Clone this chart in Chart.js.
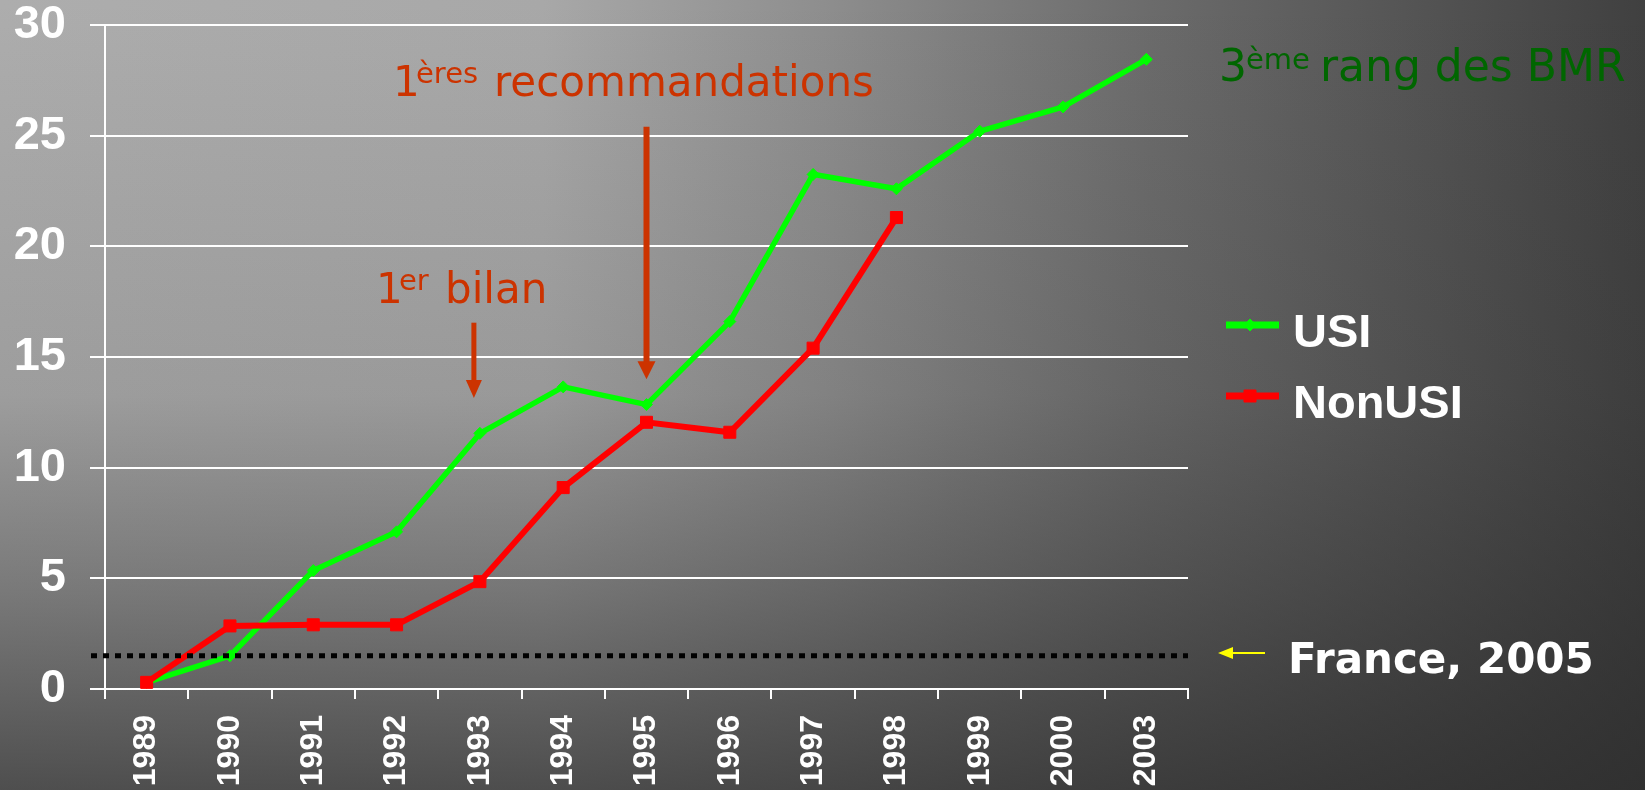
<!DOCTYPE html>
<html>
<head>
<meta charset="utf-8">
<script src="https://cdn.jsdelivr.net/npm/chart.js@4.4.1/dist/chart.umd.min.js"></script>
<style>
html,body{margin:0;padding:0;background:#333;}
#wrap{position:relative;width:1645px;height:790px;
  background:
    linear-gradient(to bottom, rgba(42,42,42,0) 0%, rgba(42,42,42,0.12) 50%, rgba(42,42,42,0.4) 75%, rgba(42,42,42,0.72) 100%),
    linear-gradient(to right, #adadad 0%, #a8a8a8 33%, #8e8e8e 50%, #6b6b6b 70%, #404040 100%);
}
canvas{display:block;}
</style>
</head>
<body>
<div id="wrap"><canvas id="c" width="1645" height="790"></canvas></div>
<script>
// ---- data ----
const years = ['1989','1990','1991','1992','1993','1994','1995','1996','1997','1998','1999','2000','2003'];
const usiValues = [0.3, 1.5, 5.35, 7.1, 11.55, 13.65, 12.85, 16.6, 23.25, 22.6, 25.2, 26.3, 28.45];
const nonUsiValues = [0.3, 2.85, 2.9, 2.9, 4.85, 9.1, 12.05, 11.6, 15.4, 21.3, null, null, null];
const seriesNames = ['USI', 'NonUSI'];
const franceLevel = 1.5;
const yMin = 0, yMax = 30, yStep = 5;

const TEXT_FONT = '"DejaVu Sans", sans-serif';
const AXIS_FONT = '"Liberation Sans", Arial, sans-serif';

function arrowDown(ctx, x, y1, y2, lw, headLen, headHalf, color) {
  ctx.save();
  ctx.strokeStyle = color; ctx.fillStyle = color; ctx.lineWidth = lw; ctx.lineCap = 'butt';
  ctx.beginPath(); ctx.moveTo(x, y1); ctx.lineTo(x, y2 - headLen + 1); ctx.stroke();
  ctx.beginPath(); ctx.moveTo(x - headHalf, y2 - headLen); ctx.lineTo(x + headHalf, y2 - headLen); ctx.lineTo(x, y2); ctx.closePath(); ctx.fill();
  ctx.restore();
}
function segs(ctx, list, color) {
  ctx.save();
  ctx.fillStyle = color; ctx.textBaseline = 'alphabetic'; ctx.textAlign = 'left';
  list.forEach(s => { ctx.font = (s.b ? 'bold ' : '') + s.s + 'px ' + TEXT_FONT; ctx.fillText(s.t, s.x, s.y); });
  ctx.restore();
}

const overlay = {
  id: 'overlay',
  afterDatasetsDraw(chart) {
    const ctx = chart.ctx, ys = chart.scales.y, ca = chart.chartArea;
    const yF = ys.getPixelForValue(franceLevel);
    ctx.save();
    ctx.strokeStyle = '#000'; ctx.lineWidth = 5; ctx.setLineDash([6, 6]); ctx.lineCap = 'butt';
    ctx.beginPath(); ctx.moveTo(ca.left - 14, yF); ctx.lineTo(ca.right, yF); ctx.stroke();
    ctx.restore();
  },
  afterDraw(chart) {
    const ctx = chart.ctx, xs = chart.scales.x, ys = chart.scales.y;
    const orange = '#cc3300';
    // arrows
    arrowDown(ctx, xs.getPixelForValue(6), ys.getPixelForValue(25.4), ys.getPixelForValue(14.0), 6, 18, 9, orange);
    arrowDown(ctx, xs.getPixelForValue(4) - 6, ys.getPixelForValue(16.55), ys.getPixelForValue(13.15), 5, 18, 8, orange);
    // annotation texts
    segs(ctx, [
      {t:'1', x:393, y:96, s:42},
      {t:'ères', x:416, y:83, s:29},
      {t:'recommandations', x:494, y:96, s:42}
    ], orange);
    segs(ctx, [
      {t:'1', x:376, y:303, s:42},
      {t:'er', x:399, y:290, s:29},
      {t:'bilan', x:445, y:303, s:42}
    ], orange);
    segs(ctx, [
      {t:'3', x:1219, y:81, s:44},
      {t:'ème', x:1246, y:69, s:29},
      {t:'rang des BMR', x:1320, y:81, s:44}
    ], '#006600');
    segs(ctx, [{t:'France, 2005', x:1288, y:673, s:42, b:true}], '#ffffff');
    // yellow arrow
    ctx.save();
    ctx.strokeStyle = '#ffff00'; ctx.fillStyle = '#ffff00'; ctx.lineWidth = 2;
    ctx.beginPath(); ctx.moveTo(1265, 653); ctx.lineTo(1228, 653); ctx.stroke();
    ctx.beginPath(); ctx.moveTo(1218, 653); ctx.lineTo(1233, 647); ctx.lineTo(1233, 659); ctx.closePath(); ctx.fill();
    ctx.restore();
    // legend
    const items = chart.data.datasets;
    const ly = [325, 396];
    items.forEach((ds, i) => {
      ctx.save();
      ctx.strokeStyle = ds.borderColor; ctx.lineWidth = 7; ctx.lineCap = 'butt';
      ctx.beginPath(); ctx.moveTo(1226, ly[i]); ctx.lineTo(1279, ly[i]); ctx.stroke();
      ctx.fillStyle = ds.pointBackgroundColor; ctx.strokeStyle = ds.pointBorderColor; ctx.lineWidth = ds.pointBorderWidth;
      Chart.helpers.drawPoint(ctx, {pointStyle: ds.pointStyle, radius: ds.pointRadius, borderWidth: ds.pointBorderWidth, rotation: 0}, 1250, ly[i]);
      ctx.fillStyle = '#ffffff'; ctx.font = 'bold 47px ' + AXIS_FONT; ctx.textBaseline = 'alphabetic';
      ctx.fillText(ds.label, 1293, ly[i] + 22);
      ctx.restore();
    });
  }
};

new Chart(document.getElementById('c'), {
  type: 'line',
  data: {
    labels: years,
    datasets: [
      {
        label: seriesNames[0], data: usiValues, order: 1,
        borderColor: '#00ff00', borderWidth: 5.5,
        pointStyle: 'rectRot', pointRadius: 6, pointBackgroundColor: '#00ff00', pointBorderColor: '#00ff00', pointBorderWidth: 1,
        tension: 0, fill: false
      },
      {
        label: seriesNames[1], data: nonUsiValues, order: 0,
        borderColor: '#ff0000', borderWidth: 6,
        pointStyle: 'rect', pointRadius: 8.5, pointBackgroundColor: '#ff0000', pointBorderColor: '#ff0000', pointBorderWidth: 1,
        tension: 0, fill: false, spanGaps: false
      }
    ]
  },
  options: {
    responsive: false,
    animation: false,
    devicePixelRatio: 1,
    layout: { padding: { left: 0, top: 25, right: 457, bottom: 0 } },
    plugins: { legend: { display: false }, tooltip: { enabled: false } },
    events: [],
    scales: {
      x: {
        offset: true,
        grid: { display: true, drawOnChartArea: false, drawTicks: true, tickLength: 10, color: '#ffffff', lineWidth: 2, offset: true },
        border: { display: true, color: '#ffffff', width: 2 },
        ticks: { autoSkip: false, maxRotation: 90, minRotation: 90, padding: 16, color: '#ffffff',
                 font: { family: AXIS_FONT, size: 32, weight: 'bold' } },
        afterFit(scale) { scale.height = 101; scale.paddingLeft = 0; scale.paddingRight = 0; }
      },
      y: {
        min: yMin, max: yMax,
        grid: { color: '#ffffff', lineWidth: 2, drawTicks: true, tickLength: 15 },
        border: { display: true, color: '#ffffff', width: 2 },
        ticks: { stepSize: yStep, padding: 24, color: '#ffffff',
                 font: { family: AXIS_FONT, size: 47, weight: 'bold', lineHeight: 1 } },
        afterFit(scale) { scale.width = 105; scale.paddingTop = 0; scale.paddingBottom = 0; }
      }
    }
  },
  plugins: [overlay]
});
</script>
</body>
</html>
